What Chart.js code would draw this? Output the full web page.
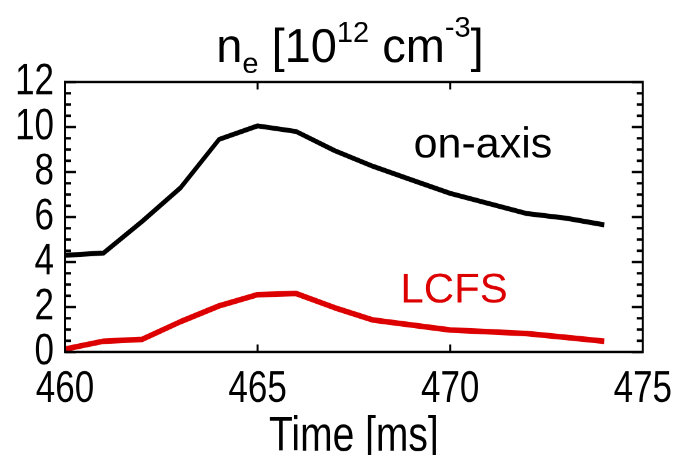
<!DOCTYPE html>
<html>
<head>
<meta charset="utf-8">
<script src="https://cdn.jsdelivr.net/npm/chart.js@4.4.0/dist/chart.umd.min.js"></script>
<style>
  html, body { margin: 0; padding: 0; background: #fff; }
  #wrap { width: 681px; height: 455px; position: relative; overflow: hidden; }
  /* the original figure is stretched vertically, so the canvas is too */
  #box { width: 681px; height: 364px; transform: scale(1, 1.25); transform-origin: 0 0; }
</style>
</head>
<body>
<div id="wrap"><div id="box"><canvas id="neChart"></canvas></div></div>
<script>
const times = [460, 461, 462, 463, 464, 465, 466, 467, 468, 469, 470, 471, 472, 473, 474];
const onAxis = [4.3, 4.4, 5.8, 7.3, 9.45, 10.05, 9.8, 8.95, 8.25, 7.65, 7.05, 6.6, 6.15, 5.95, 5.65];
const lcfs = [0.13, 0.48, 0.56, 1.35, 2.05, 2.55, 2.6, 1.97, 1.42, 1.2, 0.98, 0.9, 0.82, 0.65, 0.48];

const xTicks = [460, 465, 470, 475];
const yTicks = [0, 2, 4, 6, 8, 10, 12];

const stretch = 1.25;
const red = '#dd0000';
const font = '"Liberation Sans", Arial, Helvetica, sans-serif';

// title with sub/superscripts, series labels, inward ticks and the box
const decorations = {
    id: 'decorations',
    afterDraw(chart) {
        const ctx = chart.ctx;
        const area = chart.chartArea;
        const xs = chart.scales.x;
        const ys = chart.scales.y;
        ctx.save();

        // frame
        ctx.strokeStyle = '#000';
        ctx.lineWidth = 2;
        ctx.strokeRect(area.left, area.top, area.right - area.left, area.bottom - area.top);

        // y ticks on both sides, minor every 0.5
        for (let v = 0; v <= 12; v += 0.5) {
            const y = ys.getPixelForValue(v);
            const len = (v % 2 === 0) ? 11 : 6;
            ctx.beginPath();
            ctx.moveTo(area.left, y);
            ctx.lineTo(area.left + len, y);
            ctx.moveTo(area.right, y);
            ctx.lineTo(area.right - len, y);
            ctx.stroke();
        }
        // x ticks
        xTicks.forEach(t => {
            if (t === xs.min || t === xs.max) return;
            const x = xs.getPixelForValue(t);
            ctx.beginPath();
            ctx.moveTo(x, area.bottom);
            ctx.lineTo(x, area.bottom - 6);
            ctx.moveTo(x, area.top);
            ctx.lineTo(x, area.top + 6);
            ctx.stroke();
        });

        // texts are drawn without the vertical stretch
        ctx.scale(1, 1 / stretch);
        ctx.textBaseline = 'alphabetic';
        ctx.textAlign = 'center';
        ctx.fillStyle = '#000';
        ctx.font = '43px ' + font;
        ctx.fillText('on-axis', xs.getPixelForValue(470.85), ys.getPixelForValue(8.65) * stretch);
        ctx.fillStyle = red;
        ctx.font = '42px ' + font;
        ctx.fillText('LCFS', xs.getPixelForValue(470.1), ys.getPixelForValue(2.2) * stretch);

        // title: n_e [10^12 cm^-3]
        const parts = [
            { t: 'n', size: 47, dy: 0 },
            { t: 'e', size: 29, dy: 11 },
            { t: ' [10', size: 47, dy: 0 },
            { t: '12', size: 29, dy: -20 },
            { t: ' cm', size: 47, dy: 0 },
            { t: '-3', size: 29, dy: -25 },
            { t: ']', size: 47, dy: 0 }
        ];
        let total = 0;
        parts.forEach(p => {
            ctx.font = p.size + 'px ' + font;
            p.w = ctx.measureText(p.t).width;
            total += p.w;
        });
        let x = 350 - total / 2;
        ctx.fillStyle = '#000';
        ctx.textAlign = 'left';
        parts.forEach(p => {
            ctx.font = p.size + 'px ' + font;
            ctx.fillText(p.t, x, 62 + p.dy);
            x += p.w;
        });

        ctx.restore();
    }
};

new Chart(document.getElementById('neChart').getContext('2d'), {
    type: 'line',
    data: {
        datasets: [
            {
                label: 'on-axis',
                data: times.map((t, i) => ({ x: t, y: onAxis[i] })),
                borderColor: '#000',
                borderWidth: 4,
                pointRadius: 0,
                tension: 0,
                borderJoinStyle: 'round'
            },
            {
                label: 'LCFS',
                data: times.map((t, i) => ({ x: t, y: lcfs[i] })),
                borderColor: red,
                borderWidth: 4.5,
                pointRadius: 0,
                tension: 0,
                borderJoinStyle: 'round'
            }
        ]
    },
    options: {
        responsive: true,
        maintainAspectRatio: false,
        animation: false,
        devicePixelRatio: 2,
        layout: { padding: { top: 65.6, right: 36, left: 0, bottom: 0 } },
        plugins: {
            legend: { display: false },
            tooltip: { enabled: false },
            title: { display: false }
        },
        scales: {
            x: {
                type: 'linear',
                min: 460,
                max: 475,
                afterBuildTicks: (s) => { s.ticks = xTicks.map(v => ({ value: v })); },
                afterFit: (s) => { s.height = 82.4; },
                grid: { display: false, drawTicks: false },
                border: { display: true, color: '#000', width: 2 },
                ticks: {
                    color: '#000',
                    font: { family: font, size: 35 },
                    padding: 9,
                    autoSkip: false,
                    maxRotation: 0
                },
                title: {
                    display: true,
                    text: 'Time [ms]',
                    color: '#000',
                    font: { family: font, size: 39 },
                    padding: { top: 0, bottom: -9 }
                }
            },
            y: {
                min: 0,
                max: 12,
                afterBuildTicks: (s) => { s.ticks = yTicks.map(v => ({ value: v })); },
                afterFit: (s) => { s.width = 65; },
                grid: { display: false, drawTicks: false },
                border: { display: true, color: '#000', width: 2 },
                ticks: {
                    color: '#000',
                    font: { family: font, size: 35 },
                    padding: 11,
                    autoSkip: false
                }
            }
        }
    },
    plugins: [decorations]
});
</script>
</body>
</html>
